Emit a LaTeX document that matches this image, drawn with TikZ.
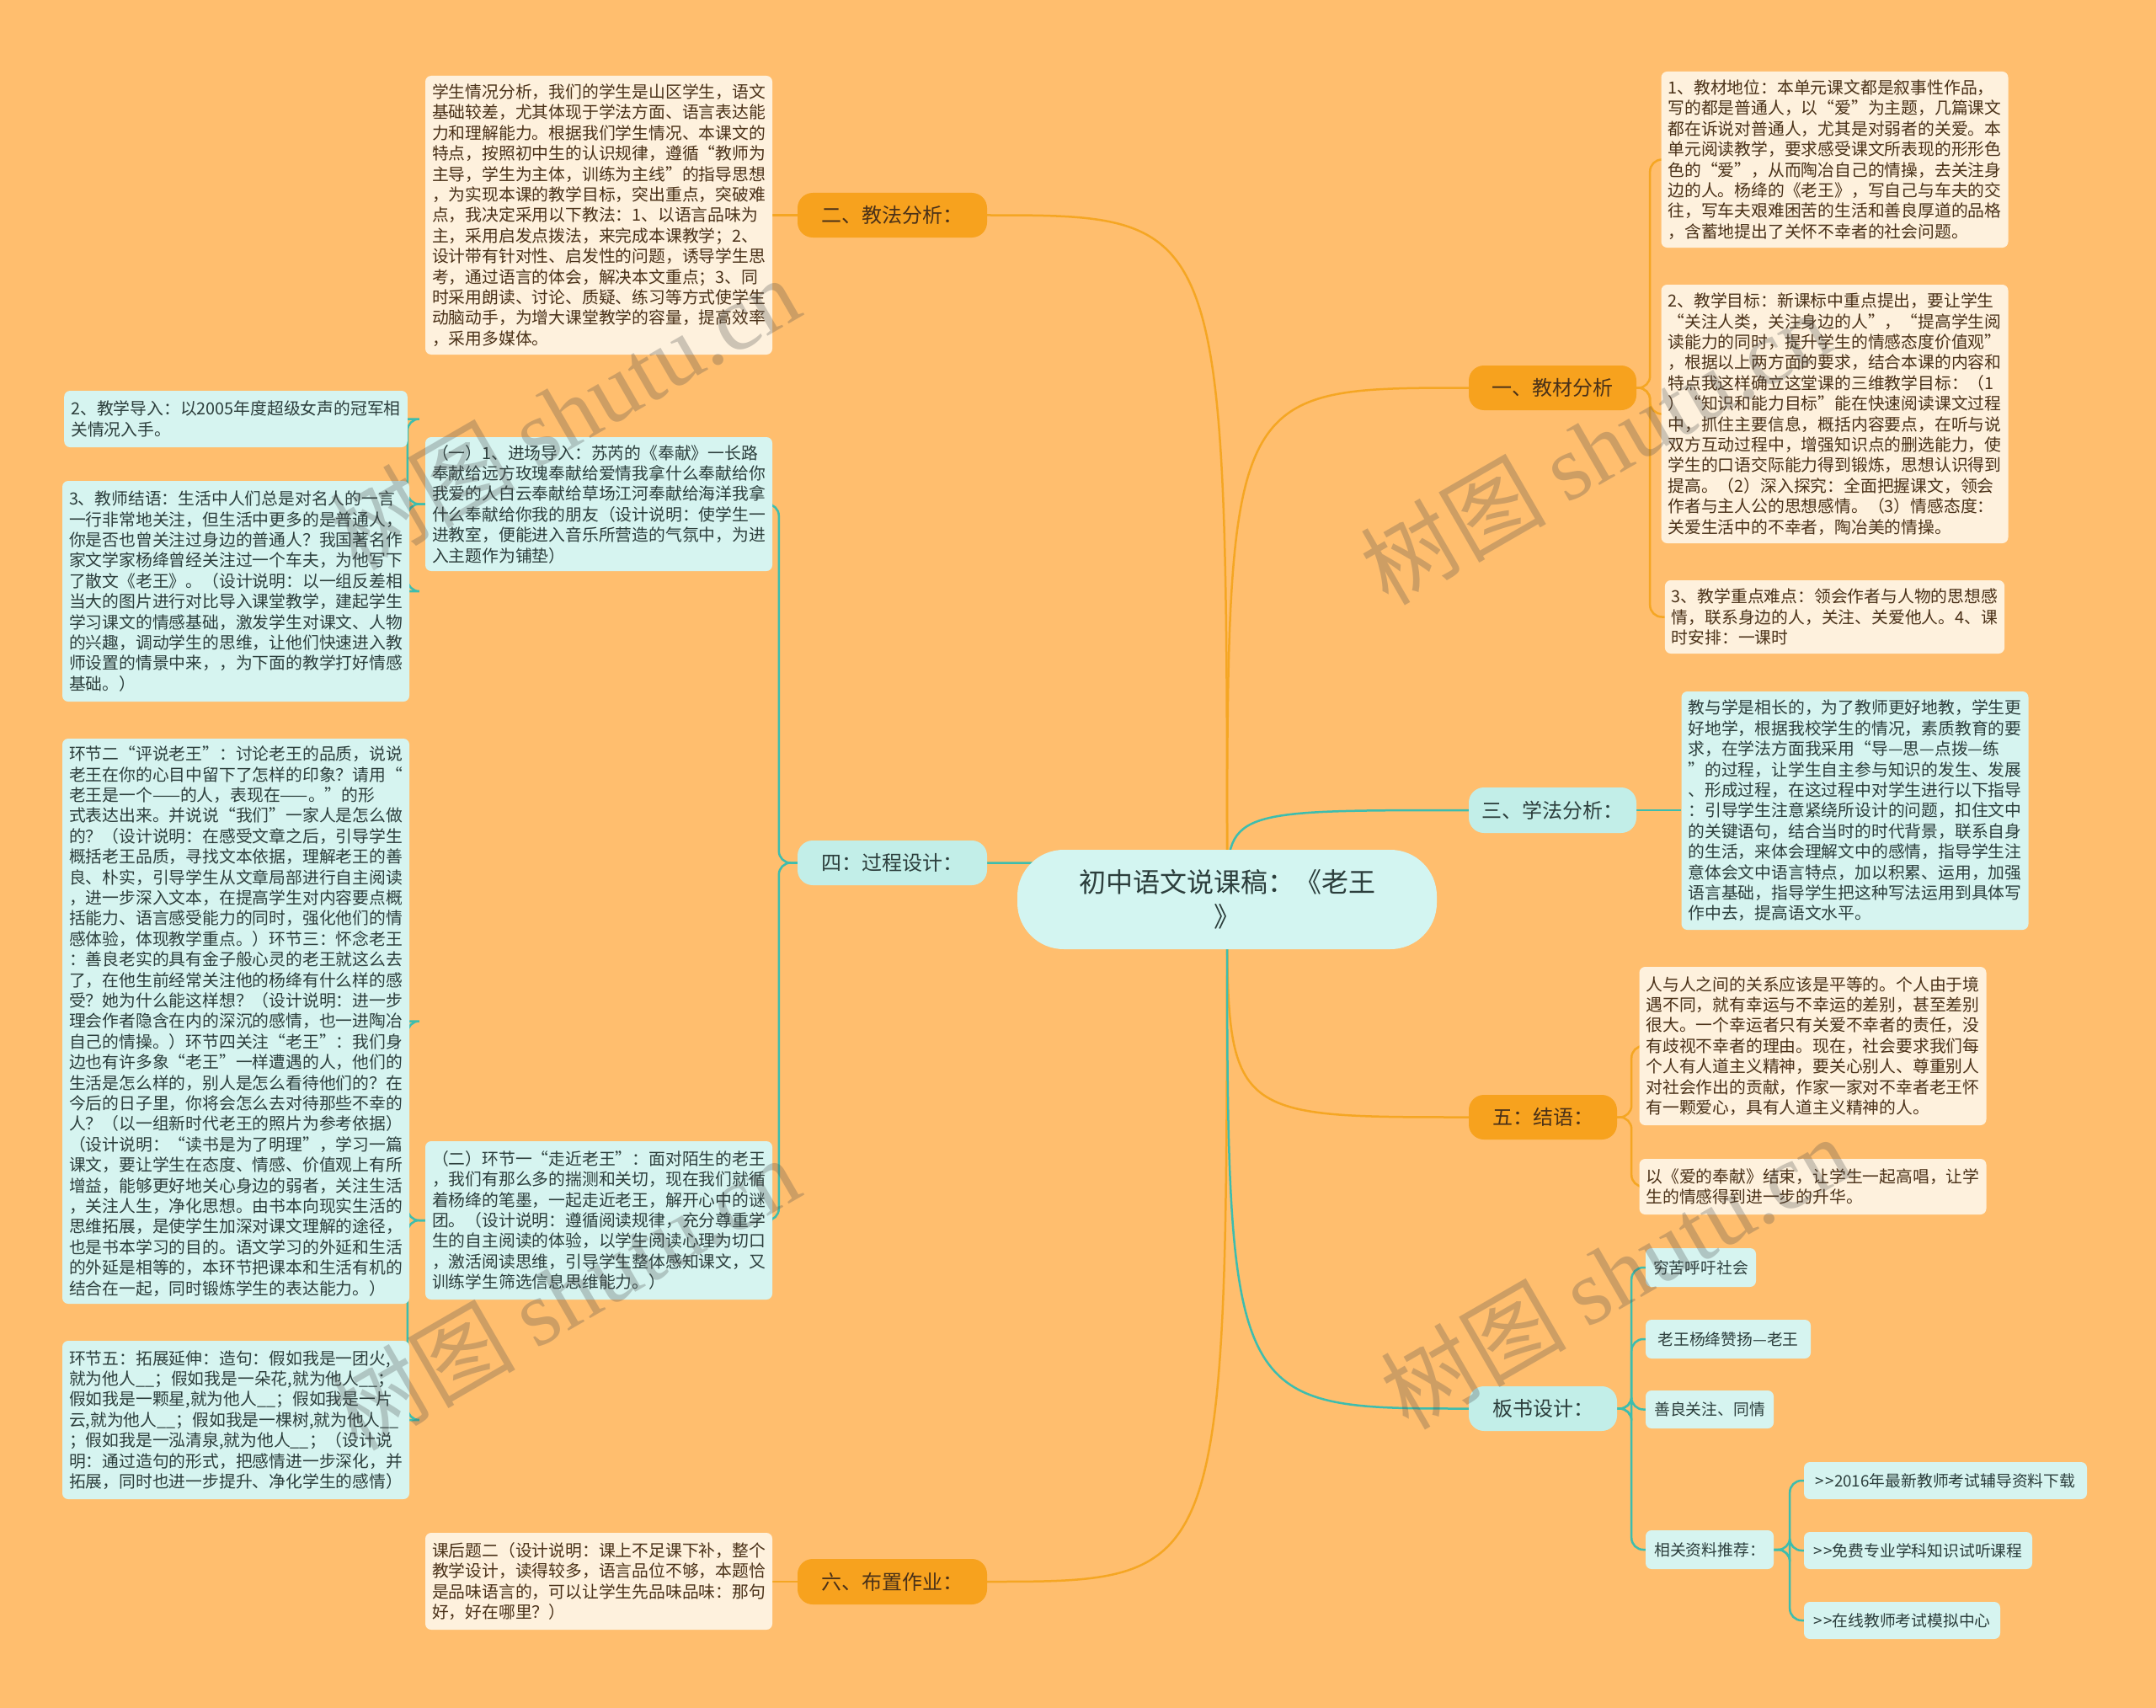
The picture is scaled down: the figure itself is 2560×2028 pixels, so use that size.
\documentclass[tikz,border=0pt]{standalone}
\usepackage{fontspec}
\setmainfont{Noto Sans CJK SC}
\newfontfamily\wmfont{Liberation Serif}
\usetikzlibrary{calc}
\definecolor{bgc}{HTML}{FFBE6E}
\definecolor{oline}{HTML}{F5A623}
\definecolor{tline}{HTML}{3DBDAE}
\definecolor{ofill}{HTML}{F7A21E}
\definecolor{tfill}{HTML}{C2EEE8}
\definecolor{cfill}{HTML}{D3F5F1}
\definecolor{oleaf}{HTML}{FEF1DD}
\definecolor{tleaf}{HTML}{D6F4F0}
\definecolor{otext}{HTML}{4A3118}
\definecolor{ttext}{HTML}{2C3E3C}
\pgfdeclarelayer{bg}
\pgfdeclarelayer{edges}
\pgfsetlayers{bg,edges,main}
\tikzset{
 box/.style={rounded corners=7, align=left, inner xsep=8, inner ysep=2, font=\fontsize{19.8}{24.4}\selectfont},
 oleafbox/.style={box, fill=oleaf, text=otext},
 tleafbox/.style={box, fill=tleaf, text=ttext},
 sleafbox/.style={box, fill=tleaf, text=ttext, font=\fontsize{18.8}{22}\selectfont},
 branchO/.style={rounded corners=18, fill=ofill, text=otext, font=\fontsize{24}{28}\selectfont},
 branchT/.style={rounded corners=18, fill=tfill, text=ttext, font=\fontsize{24}{28}\selectfont},
 oedge/.style={draw=oline, line width=2.5, rounded corners=14},
 tedge/.style={draw=tline, line width=2.5, rounded corners=14},
 wmark/.style={rotate=30, opacity=0.28, text=black!70, font=\fontsize{110}{110}\selectfont},
}
\newcommand\bx[7]{\node[#6, minimum width={#4-#2}, minimum height={#5-#3}] (#1) at ({(#2+#4)/2},{-(#3+#5)/2}) {#7};}
\newcommand\gtgt{>\kern1.5pt>}
\begin{document}
\begin{tikzpicture}[x=1pt,y=1pt]
\begin{pgfonlayer}{bg}
\fill[bgc] (0,0) rectangle (2560,-2028);
\end{pgfonlayer}
\useasboundingbox (0,0) rectangle (2560,-2028);

% center
\node[fill=cfill, rounded corners=55, minimum width=498, minimum height=118, align=center, text=ttext, font=\fontsize{32}{41}\selectfont] (C) at (1457,-1068) {初中语文说课稿：《老王\\》};

% branches
\bx{Bjf}{947}{229}{1172}{282}{branchO}{二、教法分析：}
\bx{Bgc}{947}{998}{1172}{1051}{branchT}{四：过程设计：}
\bx{Bzy}{947}{1851}{1172}{1905}{branchO}{六、布置作业：}
\bx{Bjc}{1744}{434}{1943}{487}{branchO}{一、教材分析}
\bx{Bxf}{1744}{935}{1943}{989}{branchT}{三、学法分析：}
\bx{Bjy}{1744}{1300}{1920}{1353}{branchO}{五：结语：}
\bx{Bbs}{1744}{1646}{1920}{1699}{branchT}{板书设计：}

% left leaves
\bx{Ljf}{511}{90}{911}{421}{oleafbox}{学生情况分析，我们的学生是山区学生，语文\\基础较差，尤其体现于学法方面、语言表达能\\力和理解能力。根据我们学生情况、本课文的\\特点，按照初中生的认识规律，遵循“教师为\\主导，学生为主体，训练为主线”的指导思想\\，为实现本课的教学目标，突出重点，突破难\\点，我决定采用以下教法：1、以语言品味为\\主，采用启发点拨法，来完成本课教学；2、\\设计带有针对性、启发性的问题，诱导学生思\\考，通过语言的体会，解决本文重点；3、同\\时采用朗读、讨论、质疑、练习等方式使学生\\动脑动手，为增大课堂教学的容量，提高效率\\，采用多媒体。}
\bx{Lg1}{511}{519}{911}{678}{tleafbox}{（一）1、进场导入：苏芮的《奉献》一长路\\奉献给远方玫瑰奉献给爱情我拿什么奉献给你\\我爱的人白云奉献给草场江河奉献给海洋我拿\\什么奉献给你我的朋友（设计说明：使学生一\\进教室，便能进入音乐所营造的气氛中，为进\\入主题作为铺垫）}
\bx{Lg2}{511}{1355}{911}{1543}{tleafbox}{（二）环节一“走近老王”：面对陌生的老王\\，我们有那么多的揣测和关切，现在我们就循\\着杨绛的笔墨，一起走近老王，解开心中的谜\\团。（设计说明：遵循阅读规律，充分尊重学\\生的自主阅读的体验，以学生阅读心理为切口\\，激活阅读思维，引导学生整体感知课文，又\\训练学生筛选信息思维能力。）}
\bx{Lzy}{511}{1820}{911}{1935}{oleafbox}{课后题二（设计说明：课上不足课下补，整个\\教学设计，读得较多，语言品位不够，本题恰\\是品味语言的，可以让学生先品味品味：那句\\好，好在哪里？）}
\bx{Ldr}{82}{464}{478}{531}{tleafbox}{2、教学导入：以2005年度超级女声的冠军相\\关情况入手。}
\bx{Ljy}{82}{571}{478}{833}{tleafbox}{3、教师结语：生活中人们总是对名人的一言\\一行非常地关注，但生活中更多的是普通人，\\你是否也曾关注过身边的普通人？我国著名作\\家文学家杨绛曾经关注过一个车夫，为他写下\\了散文《老王》。（设计说明：以一组反差相\\当大的图片进行对比导入课堂教学，建起学生\\学习课文的情感基础，激发学生对课文、人物\\的兴趣，调动学生的思维，让他们快速进入教\\师设置的情景中来，，为下面的教学打好情感\\基础。）}
\bx{Lh2}{82}{877}{478}{1548}{tleafbox}{环节二“评说老王”：讨论老王的品质，说说\\老王在你的心目中留下了怎样的印象？请用“\\老王是一个——的人，表现在——。”的形\\式表达出来。并说说“我们”一家人是怎么做\\的？（设计说明：在感受文章之后，引导学生\\概括老王品质，寻找文本依据，理解老王的善\\良、朴实，引导学生从文章局部进行自主阅读\\，进一步深入文本，在提高学生对内容要点概\\括能力、语言感受能力的同时，强化他们的情\\感体验，体现教学重点。）环节三：怀念老王\\：善良老实的具有金子般心灵的老王就这么去\\了，在他生前经常关注他的杨绛有什么样的感\\受？她为什么能这样想？（设计说明：进一步\\理会作者隐含在内的深沉的感情，也一进陶冶\\自己的情操。）环节四关注“老王”：我们身\\边也有许多象“老王”一样遭遇的人，他们的\\生活是怎么样的，别人是怎么看待他们的？在\\今后的日子里，你将会怎么去对待那些不幸的\\人？（以一组新时代老王的照片为参考依据）\\（设计说明：“读书是为了明理”，学习一篇\\课文，要让学生在态度、情感、价值观上有所\\增益，能够更好地关心身边的弱者，关注生活\\，关注人生，净化思想。由书本向现实生活的\\思维拓展，是使学生加深对课文理解的途径，\\也是书本学习的目的。语文学习的外延和生活\\的外延是相等的，本环节把课本和生活有机的\\结合在一起，同时锻炼学生的表达能力。）}
\bx{Lh5}{82}{1592}{478}{1780}{tleafbox}{环节五：拓展延伸：造句：假如我是一团火,\\就为他人\_\_；假如我是一朵花,就为他人\_\_；\\假如我是一颗星,就为他人\_\_；假如我是一片\\云,就为他人\_\_；假如我是一棵树,就为他人\_\_\\；假如我是一泓清泉,就为他人\_\_；（设计说\\明：通过造句的形式，把感情进一步深化，并\\拓展，同时也进一步提升、净化学生的感情）}

% right leaves
\bx{Rj1}{1979}{85}{2378}{294}{oleafbox}{1、教材地位：本单元课文都是叙事性作品，\\写的都是普通人，以“爱”为主题，几篇课文\\都在诉说对普通人，尤其是对弱者的关爱。本\\单元阅读教学，要求感受课文所表现的形形色\\色的“爱”，从而陶冶自己的情操，去关注身\\边的人。杨绛的《老王》，写自己与车夫的交\\往，写车夫艰难困苦的生活和善良厚道的品格\\，含蓄地提出了关怀不幸者的社会问题。}
\bx{Rj2}{1979}{338}{2378}{645}{oleafbox}{2、教学目标：新课标中重点提出，要让学生\\“关注人类，关注身边的人”，“提高学生阅\\读能力的同时，提升学生的情感态度价值观”\\，根据以上两方面的要求，结合本课的内容和\\特点我这样确立这堂课的三维教学目标：（1\\）“知识和能力目标”能在快速阅读课文过程\\中，抓住主要信息，概括内容要点，在听与说\\双方互动过程中，增强知识点的删选能力，使\\学生的口语交际能力得到锻炼，思想认识得到\\提高。（2）深入探究：全面把握课文，领会\\作者与主人公的思想感情。（3）情感态度：\\关爱生活中的不幸者，陶冶美的情操。}
\bx{Rj3}{1979}{689}{2378}{776}{oleafbox}{3、教学重点难点：领会作者与人物的思想感\\情，联系身边的人，关注、关爱他人。4、课\\时安排：一课时}
\bx{Rxf}{2005}{821}{2400}{1104}{tleafbox}{教与学是相长的，为了教师更好地教，学生更\\好地学，根据我校学生的情况，素质教育的要\\求，在学法方面我采用“导—思—点拨—练\\”的过程，让学生自主参与知识的发生、发展\\、形成过程，在这过程中对学生进行以下指导\\：引导学生注意紧绕所设计的问题，扣住文中\\的关键语句，结合当时的时代背景，联系自身\\的生活，来体会理解文中的感情，指导学生注\\意体会文中语言特点，加以积累、运用，加强\\语言基础，指导学生把这种写法运用到具体写\\作中去，提高语文水平。}
\bx{Ry1}{1954}{1148}{2351}{1336}{oleafbox}{人与人之间的关系应该是平等的。个人由于境\\遇不同，就有幸运与不幸运的差别，甚至差别\\很大。一个幸运者只有关爱不幸者的责任，没\\有歧视不幸者的理由。现在，社会要求我们每\\个人有人道主义精神，要关心别人、尊重别人\\对社会作出的贡献，作家一家对不幸者老王怀\\有一颗爱心，具有人道主义精神的人。}
\bx{Ry2}{1954}{1376}{2351}{1442}{oleafbox}{以《爱的奉献》结束，让学生一起高唱，让学\\生的情感得到进一步的升华。}
\bx{Rb1}{1954}{1482}{2085}{1528}{sleafbox}{穷苦呼吁社会}
\bx{Rb2}{1954}{1567}{2150}{1613}{sleafbox}{老王杨绛赞扬—老王}
\bx{Rb3}{1954}{1651}{2106}{1696}{sleafbox}{善良关注、同情}
\bx{Rb4}{1954}{1817}{2106}{1863}{sleafbox}{相关资料推荐：}
\bx{Rz1}{2142}{1736}{2478}{1780}{sleafbox}{\gtgt 2016年最新教师考试辅导资料下载}
\bx{Rz2}{2142}{1819}{2413}{1863}{sleafbox}{\gtgt 免费专业学科知识试听课程}
\bx{Rz3}{2142}{1902}{2375}{1946}{sleafbox}{\gtgt 在线教师考试模拟中心}

\begin{pgfonlayer}{edges}
% center to branches
\draw[oedge] (C.center) .. controls (C.center |- Bjf.east) .. (Bjf.east);
\draw[tedge] (C.center) .. controls (C.center |- Bgc.east) .. (Bgc.east);
\draw[oedge] (C.center) .. controls (C.center |- Bzy.east) .. (Bzy.east);
\draw[oedge] (C.center) .. controls (C.center |- Bjc.west) .. (Bjc.west);
\draw[tedge] (C.center) .. controls (C.center |- Bxf.west) .. (Bxf.west);
\draw[oedge] (C.center) .. controls (C.center |- Bjy.west) .. (Bjy.west);
\draw[tedge] (C.center) .. controls (C.center |- Bbs.west) .. (Bbs.west);
% branch to leaves
\draw[oedge] (Bjf.west) -- (Ljf.east |- Bjf.west);
\draw[oedge] (Bzy.west) -- (Lzy.east |- Bzy.west);
\draw[tedge] (Bxf.east) -- (Rxf.west |- Bxf.east);
\foreach \c in {Lg1,Lg2} \draw[tedge] (Bgc.west) -- ([xshift=-22]Bgc.west) |- (\c.east);
\foreach \c in {Ldr,Ljy} \draw[tedge] (Lg1.west) -- ([xshift=-21]Lg1.west) |- (\c.east);
\foreach \c in {Lh2,Lh5} \draw[tedge] (Lg2.west) -- ([xshift=-21]Lg2.west) |- (\c.east);
\foreach \c in {Rj1,Rj2,Rj3} \draw[oedge] (Bjc.east) -- ([xshift=16]Bjc.east) |- (\c.west);
\foreach \c in {Ry1,Ry2} \draw[oedge] (Bjy.east) -- ([xshift=17]Bjy.east) |- (\c.west);
\foreach \c in {Rb1,Rb2,Rb3,Rb4} \draw[tedge] (Bbs.east) -- ([xshift=17]Bbs.east) |- (\c.west);
\foreach \c in {Rz1,Rz2,Rz3} \draw[tedge] (Rb4.east) -- ([xshift=19]Rb4.east) |- (\c.west);
\end{pgfonlayer}

% watermarks
\node[wmark] (W1) at (670,-490) {树图 {\wmfont shutu.cn}};
\node[wmark] (W2) at (1894,-531) {树图 {\wmfont shutu.cn}};
\node[wmark] (W3) at (670,-1535) {树图 {\wmfont shutu.cn}};
\node[wmark] (W4) at (1918,-1510) {树图 {\wmfont shutu.cn}};
\end{tikzpicture}
\end{document}
